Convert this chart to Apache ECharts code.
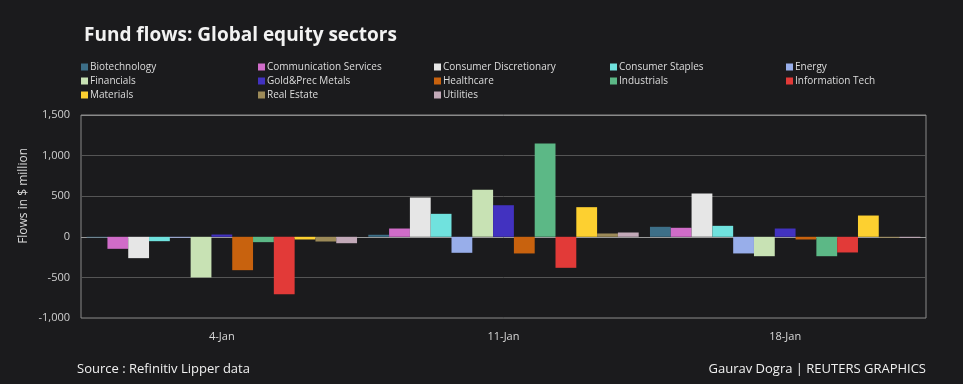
<!DOCTYPE html>
<html><head><meta charset="utf-8">
<script src="https://cdn.jsdelivr.net/npm/echarts@6/dist/echarts.min.js"></script>
<style>html,body{margin:0;padding:0;background:#1b1b1d;}#c{width:963px;height:384px;}</style>
</head><body><div id="c"></div>
<script>
const categories = ['4-Jan', '11-Jan', '18-Jan'];
const sectors = ['Biotechnology','Communication Services','Consumer Discretionary','Consumer Staples','Energy','Financials','Gold&Prec Metals','Healthcare','Industrials','Information Tech','Materials','Real Estate','Utilities'];
const biotechnology = [-8, 25, 123];
const communicationServices = [-148, 102, 111];
const consumerDiscretionary = [-263, 484, 533];
const consumerStaples = [-54, 283, 135];
const energy = [-10, -197, -205];
const financials = [-501, 579, -239];
const goldPrecMetals = [28, 389, 102];
const healthcare = [-411, -205, -33];
const industrials = [-66, 1149, -239];
const informationTech = [-707, -382, -193];
const materials = [-33, 365, 262];
const realEstate = [-58, 41, -12];
const utilities = [-79, 53, -12];
const yTicks = [-1000, -500, 0, 500, 1000, 1500];

const seriesValues = [biotechnology, communicationServices, consumerDiscretionary, consumerStaples, energy, financials, goldPrecMetals, healthcare, industrials, informationTech, materials, realEstate, utilities];
const colors = ['#3d6f88','#d06cc8','#e6e6e6','#70e2de','#98aeea','#c8e2b4','#4232c0','#c8620e','#5cb886','#e23a38','#fdd030','#9c8a58','#c2a9b8'];

const chart = echarts.init(document.getElementById('c'));
const legendCols = [81, 258, 434, 610, 786];
const legends = legendCols.map((x, ci) => ({
  orient: 'vertical', left: x, top: 62, itemGap: 4,
  itemWidth: 7, itemHeight: 7, icon: 'rect', padding: 0,
  textStyle: { color: '#dcdcdc', fontSize: 10, fontFamily: 'Open Sans', padding: [0,0,0,-3] },
  data: sectors.filter((s, i) => i % 5 === ci)
}));

chart.setOption({
  backgroundColor: '#1b1b1d',
  animation: false,
  title: {
    text: 'Fund flows: Global equity sectors', left: 79, top: 21,
    textStyle: { color: '#f2f2f2', fontSize: 19, fontWeight: 'bold', fontFamily: 'Open Sans' }
  },
  legend: legends,
  grid: { left: 81, right: 37, top: 115, bottom: 66, show: true, borderColor: '#8a8a8a', borderWidth: 1 },
  xAxis: {
    type: 'category', data: categories,
    axisLine: { show: false }, axisTick: { show: false },
    axisLabel: { color: '#d8d8d8', fontSize: 11, fontFamily: 'Open Sans', margin: 13 }
  },
  yAxis: {
    type: 'value', min: -1000, max: 1500, interval: 500,
    axisLine: { show: false }, axisTick: { show: false },
    axisLabel: { color: '#d0d0d0', fontSize: 11, fontFamily: 'Open Sans', margin: 11,
      formatter: v => yTicks.includes(v) ? v.toLocaleString('en-US') : '' },
    splitLine: { lineStyle: { color: ['#555555','#555555','#9a9a9a','#555555','#555555','#8a8a8a'], width: 1 } }
  },
  graphic: [
    { type: 'text', left: 18, top: 148, rotation: Math.PI / 2,
      style: { text: 'Flows in $ million', fill: '#d8d8d8', font: '12px "Open Sans"' } },
    { type: 'text', left: 77, top: 363,
      style: { text: 'Source : Refinitiv Lipper data', fill: '#f0f0f0', font: '13px "Open Sans"' } },
    { type: 'text', right: 37, top: 363,
      style: { text: 'Gaurav Dogra | REUTERS GRAPHICS', fill: '#f0f0f0', font: '13px "Open Sans"' } }
  ],
  series: sectors.map((name, i) => ({
    name, type: 'bar', data: seriesValues[i],
    barGap: '0%', barCategoryGap: '4%',
    itemStyle: { color: colors[i] }
  }))
});
</script></body></html>
